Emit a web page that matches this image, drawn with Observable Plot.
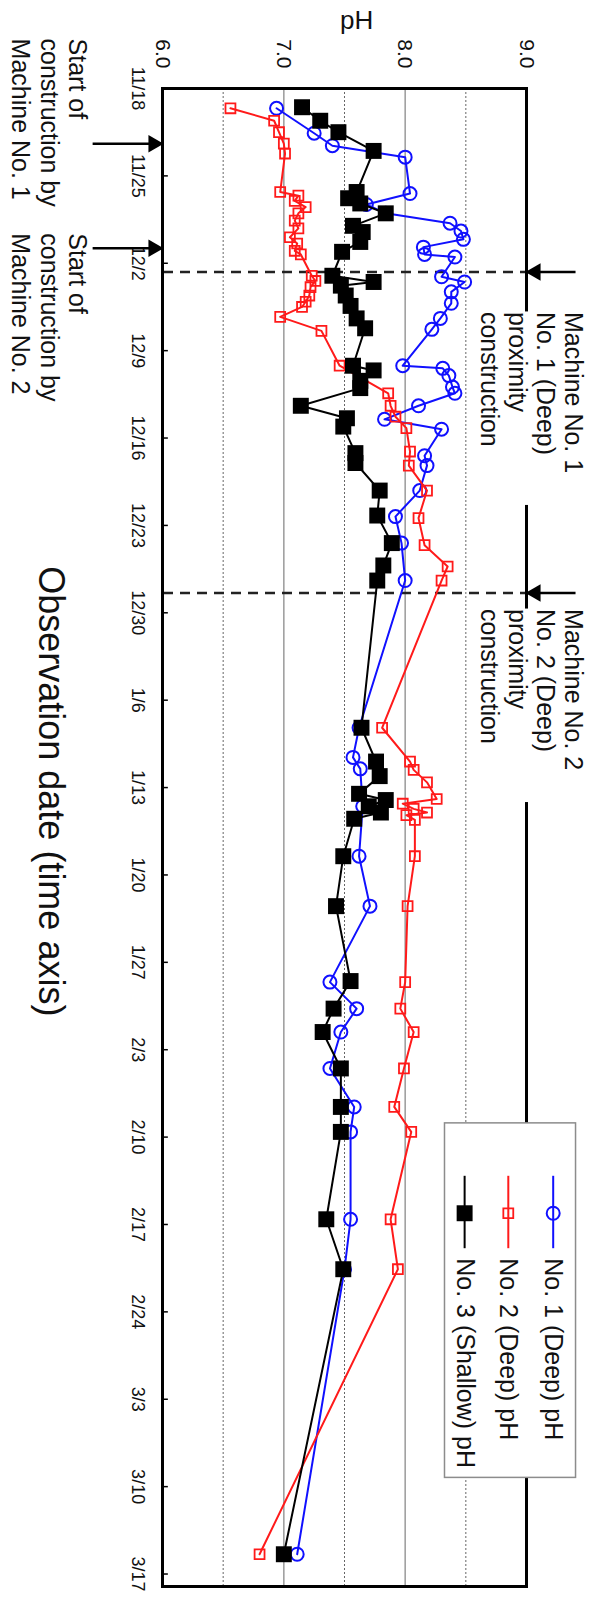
<!DOCTYPE html>
<html><head><meta charset="utf-8">
<script src="https://cdn.jsdelivr.net/npm/d3@7"></script>
<script src="https://cdn.jsdelivr.net/npm/@observablehq/plot@0.6"></script>
<style>
html,body{margin:0;padding:0;background:#fff;overflow:hidden;width:595px;height:1597px;}
#wrap{position:absolute;left:0;top:0;width:1597px;height:595px;transform-origin:0 0;transform:translateX(595px) rotate(90deg);}
</style></head>
<body><div id="wrap"></div>
<script>
// ---------- data ----------
const dateTicks = ["11/18","11/25","12/2","12/9","12/16","12/23","12/30","1/6","1/13","1/20","1/27","2/3","2/10","2/17","2/24","3/3","3/10","3/17"];
const phTicks = [6, 7, 8, 9];
const gridSolid = [7, 8];
const gridDotted = [6.5, 7.5, 8.5];

const seriesNames = ["No. 1 (Deep) pH", "No. 2 (Deep) pH", "No. 3 (Shallow) pH"];

const no1Dates = ["11/19 14","11/21 14","11/22 14","11/23 12","11/26 10","11/27 07","11/28 00","11/28 19","11/29 10","11/30 02","11/30 17","12/1 07","12/1 12","12/3 02","12/3 12","12/4 07","12/5 05","12/6 10","12/7 07","12/10 05","12/10 10","12/11 00","12/11 22","12/12 10","12/13 10","12/14 12","12/15 07","12/17 10","12/18 05","12/20 05","12/22 07","12/24 10","12/27 10","1/8 05","1/10 14","1/11 12","1/14 12","1/18 12","1/22 12","1/28 14","1/30 17","2/1 14","2/4 12","2/7 14","2/9 14","2/16 14","2/20 14","3/15 10"];
const no1PH = [6.94,7.25,7.40,8.00,8.04,7.68,7.84,8.37,8.46,8.48,8.15,8.16,8.41,8.30,8.49,8.38,8.38,8.29,8.22,7.98,8.31,8.36,8.39,8.41,8.11,7.83,8.30,8.16,8.18,8.12,7.92,7.97,8.00,7.62,7.57,7.63,7.65,7.62,7.71,7.38,7.60,7.47,7.38,7.58,7.55,7.55,7.50,7.11];

const no2Dates = ["11/19 14","11/20 14","11/21 12","11/22 10","11/23 05","11/26 07","11/26 14","11/27 00","11/27 12","11/28 00","11/28 14","11/29 05","11/29 22","11/30 10","12/1 00","12/1 07","12/3 00","12/3 10","12/3 22","12/4 14","12/5 02","12/5 12","12/6 07","12/7 10","12/10 05","12/12 10","12/13 10","12/14 07","12/15 05","12/17 02","12/18 05","12/20 05","12/22 10","12/24 14","12/26 07","12/27 10","1/8 05","1/10 22","1/11 14","1/12 14","1/13 22","1/14 07","1/14 17","1/15 00","1/15 05","1/15 14","1/18 12","1/22 12","1/28 14","1/30 17","2/1 14","2/4 12","2/7 14","2/9 14","2/16 14","2/20 14","3/15 10"];
const no2PH = [6.56,6.92,6.96,7.00,7.01,6.97,7.12,7.09,7.18,7.12,7.09,7.12,7.05,7.11,7.09,7.14,7.23,7.26,7.22,7.21,7.18,7.15,6.97,7.31,7.46,7.86,7.88,7.92,8.01,8.04,8.03,8.18,8.11,8.16,8.35,8.30,7.81,8.04,8.07,8.18,8.26,7.98,8.07,8.18,8.01,8.08,8.08,8.02,8.00,7.96,8.07,7.99,7.91,8.05,7.88,7.94,6.80];

const no3Dates = ["11/19 12","11/20 14","11/21 12","11/23 00","11/26 07","11/26 19","11/27 05","11/28 00","11/29 00","11/29 12","11/30 07","12/1 02","12/3 00","12/3 12","12/3 19","12/4 14","12/5 10","12/6 10","12/7 05","12/10 05","12/10 14","12/11 10","12/12 00","12/13 10","12/14 10","12/15 02","12/17 05","12/18 00","12/20 05","12/22 05","12/24 10","12/26 05","12/27 10","1/8 05","1/10 22","1/12 02","1/13 12","1/14 00","1/14 12","1/15 00","1/15 12","1/18 12","1/22 12","1/28 12","1/30 17","2/1 14","2/4 12","2/7 14","2/9 14","2/16 14","2/20 14","3/15 10"];
const no3PH = [7.15,7.30,7.45,7.74,7.60,7.53,7.63,7.84,7.57,7.65,7.63,7.48,7.40,7.74,7.47,7.51,7.55,7.60,7.67,7.57,7.74,7.63,7.63,7.14,7.52,7.49,7.59,7.59,7.79,7.77,7.89,7.82,7.77,7.64,7.76,7.79,7.62,7.84,7.70,7.80,7.58,7.49,7.43,7.55,7.41,7.32,7.47,7.47,7.47,7.35,7.49,7.00];

const constructionStart = ["11/22 10", "11/30 19"];
const startLabels = ["Start of\nconstruction by\nMachine No. 1", "Start of\nconstruction by\nMachine No. 2"];
const proximityStart = ["12/2 17", "12/28 10"];
const proximityLabels = ["Machine No. 1\nNo. 1 (Deep)\nproximity\nconstruction", "Machine No. 2\nNo. 2 (Deep)\nproximity\nconstruction"];
const yTitle = "pH";
const xTitle = "Observation date (time axis)";

// ---------- helpers ----------
const DAY = 864e5;
const t0 = Date.UTC(2018, 10, 18);
const dayToDate = d => new Date(t0 + d * DAY);
const parseDate = s => {
  const [md, hh] = s.split(" ");
  const [m, d] = md.split("/").map(Number);
  return new Date(Date.UTC(m >= 11 ? 2018 : 2019, m - 1, d, hh ? +hh : 0));
};
const toRows = (dates, vals, name) => dates.map((d, i) => ({date: parseDate(d), pH: vals[i], series: name}));
const s1 = toRows(no1Dates, no1PH, seriesNames[0]);
const s2 = toRows(no2Dates, no2PH, seriesNames[1]);
const s3 = toRows(no3Dates, no3PH, seriesNames[2]);
const tickDates = dateTicks.map(parseDate);

// ---------- layout (days from 11/18, pH units) ----------
const colors = ["#1010ff", "#ff1a1a", "#000000"];
const leftNoteDays = [-4.0, 11.6];
const rightNoteDays = [17.9, 41.7];
const legend = {x1: 82.9, x2: 111.3, y1: 8.32, y2: 9.40, lineA: 87.1, lineB: 92.9, mark: 90.1, text: 93.7, rows: [9.22, 8.85, 8.49]};

const startRows = constructionStart.map((d, i) => ({date: parseDate(d), label: startLabels[i], tx: dayToDate(leftNoteDays[i])}));
const proxRows = proximityStart.map((d, i) => ({date: parseDate(d), label: proximityLabels[i], tx: dayToDate(rightNoteDays[i]), tx2: dayToDate(rightNoteDays[i] + 15.5)}));
const legRows = seriesNames.map((n, i) => ({name: n, y: legend.rows[i], i}));

const font = "Liberation Sans, Arial, Helvetica, sans-serif";
const ink = "#111";

const chart = Plot.plot({
  width: 1597, height: 595,
  marginLeft: 88, marginRight: 11, marginTop: 68, marginBottom: 163,
  x: {type: "utc", domain: [dayToDate(0), dayToDate(120)]},
  y: {domain: [6, 9]},
  style: {fontFamily: font, background: "white", color: ink},
  marks: [
    Plot.ruleY(gridSolid, {stroke: "#9a9a9a", strokeWidth: 1.5}),
    Plot.ruleY(gridDotted, {stroke: "#666", strokeWidth: 1, strokeDasharray: "2,2"}),
    Plot.ruleX(proxRows, {x: "date", y1: 6, y2: 9, stroke: "#222", strokeWidth: 2.5, strokeDasharray: "10,7"}),
    Plot.ruleX(tickDates, {y1: 6, y2: 6.04, stroke: "#000", strokeWidth: 1.5}),
    Plot.frame({stroke: "#000", strokeWidth: 3}),
    Plot.axisY({ticks: phTicks, tickFormat: d => d.toFixed(1), tickSize: 0, tickPadding: 20, fontSize: 21, label: null}),
    Plot.axisX({ticks: tickDates, tickFormat: d3.utcFormat("%-m/%-d"), tickSize: 0, tickPadding: 18, fontSize: 18, label: null}),
    // series
    Plot.line(s1, {x: "date", y: "pH", stroke: colors[0], strokeWidth: 2}),
    Plot.dot(s1, {x: "date", y: "pH", r: 6.5, stroke: colors[0], strokeWidth: 2, fill: "none"}),
    Plot.line(s2, {x: "date", y: "pH", stroke: colors[1], strokeWidth: 2}),
    Plot.dot(s2, {x: "date", y: "pH", symbol: "square", r: 5.6, stroke: colors[1], strokeWidth: 1.8, fill: "none"}),
    Plot.line(s3, {x: "date", y: "pH", stroke: colors[2], strokeWidth: 2}),
    Plot.dot(s3, {x: "date", y: "pH", symbol: "square", r: 9, fill: colors[2]}),
    // construction-start arrows (below axis)
    Plot.ruleX(startRows, {x: "date", y1: 5.42, y2: 6.0, stroke: "#000", strokeWidth: 2.5}),
    Plot.dot(startRows, {x: "date", y: 6.0, dy: 9, symbol: "triangle", r: 6.5, fill: "#000"}),
    Plot.text(startRows, {x: "tx", y: 5.40, text: "label", textAnchor: "start", lineAnchor: "top", lineHeight: 1.14, fontSize: 25, fill: ink}),
    // proximity arrows (above frame)
    Plot.rect(proxRows, {x1: "tx", x2: "tx2", y1: 8.93, y2: 9.07, fill: "white"}),
    Plot.ruleX(proxRows, {x: "date", y1: 9.0, y2: 9.40, stroke: "#000", strokeWidth: 2.5}),
    Plot.dot(proxRows, {x: "date", y: 9.0, dy: -9, symbol: "triangle", rotate: 180, r: 6.5, fill: "#000"}),
    Plot.text(proxRows, {x: "tx", y: 9.48, text: "label", textAnchor: "start", lineAnchor: "top", lineHeight: 1.12, fontSize: 25, fill: ink}),
    // legend
    Plot.rect([legend], {x1: d => dayToDate(d.x1), x2: d => dayToDate(d.x2), y1: "y1", y2: "y2", fill: "white", stroke: "#8c8c8c", strokeWidth: 1.5}),
    Plot.link(legRows, {x1: () => dayToDate(legend.lineA), x2: () => dayToDate(legend.lineB), y1: "y", y2: "y", stroke: d => colors[d.i], strokeWidth: 2}),
    Plot.dot(legRows.slice(0,1), {x: () => dayToDate(legend.mark), y: "y", r: 6.5, stroke: colors[0], strokeWidth: 2, fill: "none"}),
    Plot.dot(legRows.slice(1,2), {x: () => dayToDate(legend.mark), y: "y", symbol: "square", r: 5.6, stroke: colors[1], strokeWidth: 1.8, fill: "none"}),
    Plot.dot(legRows.slice(2,3), {x: () => dayToDate(legend.mark), y: "y", symbol: "square", r: 9, fill: colors[2]}),
    Plot.text(legRows, {x: () => dayToDate(legend.text), y: "y", text: "name", textAnchor: "start", lineAnchor: "middle", fontSize: 25, fill: ink}),
    // titles
    Plot.text([yTitle], {x: () => dayToDate(-5.4), y: () => 7.6, text: d => d, rotate: -90, fontSize: 26, textAnchor: "middle", lineAnchor: "middle", fill: ink}),
    Plot.text([xTitle], {x: () => dayToDate(56.3), y: () => 5.08, text: d => d, fontSize: 36, textAnchor: "middle", lineAnchor: "middle", fill: ink})
  ]
});
document.getElementById("wrap").appendChild(chart);
</script>
</body></html>
